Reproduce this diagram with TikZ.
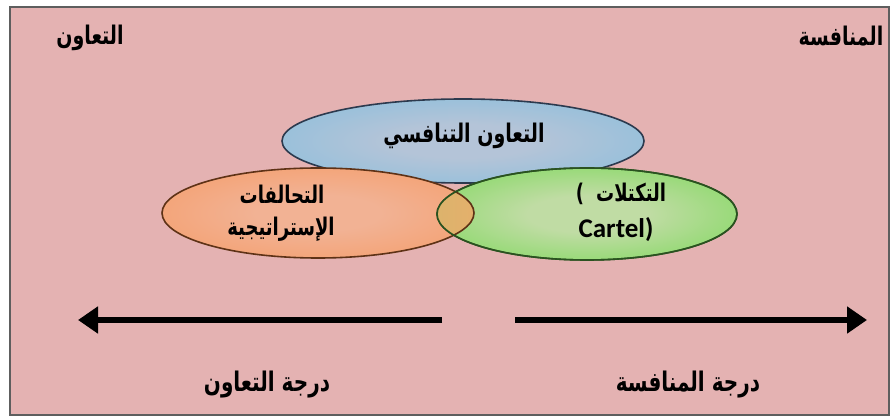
\documentclass[tikz,border=0pt]{standalone}
\usepackage{fontspec}
\usepackage{graphicx}
\setmainfont{DejaVu Sans}
\newfontfamily\arabicfont[Script=Arabic]{DejaVu Sans}
\newfontfamily\latinfont{Carlito}
\TeXXeTstate=1
\newcommand\tallar[1]{\scalebox{1}[1.35]{#1}}
\usetikzlibrary{shapes.geometric,arrows.meta}
\definecolor{bgpink}{HTML}{E4B2B2}
\definecolor{framegray}{HTML}{5E5E5E}
\definecolor{blueedge}{HTML}{88BEDC}
\definecolor{bluemid}{HTML}{B4C4D8}
\definecolor{blueline}{HTML}{2C3A4E}
\definecolor{orangeedge}{HTML}{F49C68}
\definecolor{orangemid}{HTML}{F2B294}
\definecolor{orangeline}{HTML}{5E3216}
\definecolor{greenedge}{HTML}{7CD85A}
\definecolor{greenmid}{HTML}{C0DCA4}
\definecolor{greenline}{HTML}{2A5220}
\definecolor{lensgreen}{HTML}{A4C870}
\definecolor{lensorange}{HTML}{E4B06C}
\pgfdeclareradialshading{blueglow}{\pgfpoint{0bp}{0bp}}{color(0bp)=(bluemid); color(10bp)=(bluemid); color(36bp)=(blueedge); color(50bp)=(blueedge)}
\pgfdeclareradialshading{orangeglow}{\pgfpoint{0bp}{0bp}}{color(0bp)=(orangemid); color(10bp)=(orangemid); color(36bp)=(orangeedge); color(50bp)=(orangeedge)}
\pgfdeclareradialshading{greenglow}{\pgfpoint{0bp}{0bp}}{color(0bp)=(greenmid); color(10bp)=(greenmid); color(36bp)=(greenedge); color(50bp)=(greenedge)}
\begin{document}
\begin{tikzpicture}[x=1pt,y=-1pt,
  bubble/.style={ellipse, line width=1.6pt, inner sep=0pt},
  lbl/.style={font=\arabicfont\bfseries\fontsize{19}{22}\selectfont, inner sep=0pt},
  bigarrow/.style={line width=6pt, -{Triangle[length=20pt,width=26pt]}}]
\useasboundingbox (0,0) rectangle (893,419);
\fill[white] (0,0) rectangle (893,419);
\draw[framegray, line width=1.6pt, fill=bgpink] (10,7) rectangle (889,415);
% corner labels
\node[lbl] (coopTop) at (90,38) {\tallar{\beginR التعاون\endR}};
\node[lbl] (compTop) at (841,36) {\tallar{\beginR المنافسة\endR}};
% ellipses
\node[bubble, draw=blueline, shading=blueglow, minimum width=362pt, minimum height=84pt] (coop) at (463,141) {};
\node[bubble, draw=orangeline, shading=orangeglow, minimum width=312pt, minimum height=90pt] (alli) at (318,213) {};
\node[bubble, draw=greenline, shading=greenglow, minimum width=300pt, minimum height=92pt] (cart) at (587,214) {};
% overlap lens of the two lower ellipses
\begin{scope}
  \clip (587,214) ellipse [x radius=150, y radius=46];
  \shade[left color=lensgreen, right color=lensorange] (318,213) ellipse [x radius=156, y radius=45];
  \draw[orangeline, line width=1.6pt] (318,213) ellipse [x radius=156, y radius=45];
\end{scope}
\draw[greenline, line width=1.6pt] (587,214) ellipse [x radius=150, y radius=46];
% texts
\node[lbl] (coopT) at (464,136) {\tallar{\beginR التعاون التنافسي\endR}};
\node[lbl, font=\arabicfont\bfseries\fontsize{18}{22}\selectfont] (alliT1) at (282,194) {\tallar{\beginR التحالفات\endR}};
\node[lbl, font=\arabicfont\bfseries\fontsize{18}{22}\selectfont] (alliT2) at (281,229) {\tallar{\beginR الإستراتيجية\endR}};
\node[lbl, font=\arabicfont\bfseries\fontsize{18}{22}\selectfont] (cartT1) at (621,194) {\tallar{)\hspace{12pt}\beginR التكتلات\endR}};
\node[inner sep=0pt, font=\latinfont\bfseries\fontsize{27}{30}\selectfont] (cartT2) at (616,230) {Cartel)};
% arrows
\coordinate (la1) at (442,320);
\coordinate (la2) at (78,320);
\coordinate (ra1) at (515,320);
\coordinate (ra2) at (867,320);
\draw[bigarrow] (la1) -- (la2);
\draw[bigarrow] (ra1) -- (ra2);
% bottom labels
\node[lbl, font=\arabicfont\bfseries\fontsize{20}{22}\selectfont] (coopDeg) at (267,385) {\tallar{\beginR درجة التعاون\endR}};
\node[lbl, font=\arabicfont\bfseries\fontsize{20}{22}\selectfont] (compDeg) at (688,385) {\tallar{\beginR درجة المنافسة\endR}};
\end{tikzpicture}
\end{document}
